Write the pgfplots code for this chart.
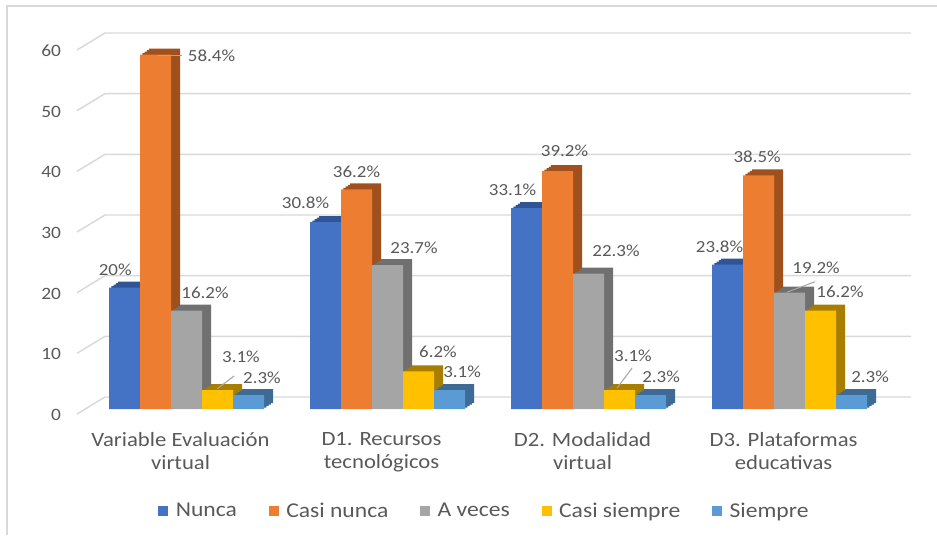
\documentclass[border=0pt]{standalone}
\usepackage{fontspec}
\setmainfont{Carlito}[FakeStretch=1.12]
\usepackage{pgfplots}
\pgfplotsset{compat=1.18}
\usepackage{pgfplotstable}

\definecolor{cN}{HTML}{4472C4}
\definecolor{cNd}{HTML}{2F5597}
\definecolor{cCN}{HTML}{ED7D31}
\definecolor{cCNd}{HTML}{A0501C}
\definecolor{cAV}{HTML}{A5A5A5}
\definecolor{cAVd}{HTML}{707070}
\definecolor{cCS}{HTML}{FFC000}
\definecolor{cCSd}{HTML}{A87E00}
\definecolor{cS}{HTML}{5B9BD5}
\definecolor{cSd}{HTML}{3D6B96}
\definecolor{txt}{HTML}{595959}
\definecolor{gridc}{HTML}{D9D9D9}
\definecolor{lead}{HTML}{A6A6A6}

% x = category index, y = percentage, dx/dy = label offset (pt)
\pgfplotstableread{
x y dx dy
0 20 -7 13.2
1 30.8 -15 14.25
2 33.1 -10.5 13.5
3 23.8 -6 13.5
}\tN
\pgfplotstableread{
x y dx dy
0 58.4 42 -0.75
1 36.2 0 13
2 39.2 5.25 15
3 38.5 -1 13.7
}\tCN
\pgfplotstableread{
x y dx dy
0 16.2 13.9 13.3
1 23.7 19.9 12.8
2 22.3 20.6 17.5
3 19.2 19.9 18.4
}\tAV
\pgfplotstableread{
x y dx dy
0 3.1 17.6 24.8
1 6.2 14.6 14.6
2 3.1 10.1 25.5
3 16.2 14.6 14
}\tCS
\pgfplotstableread{
x y dx dy
0 2.3 10.1 12.75
1 3.1 9.4 13.5
2 2.3 7.9 13.5
3 2.3 13.9 13.5
}\tS

\newcommand{\seriesplot}[4]{%
  \addplot[forget plot, fill=#3, draw=none, bar shift=#4, xshift=1.7pt, yshift=1.125pt] table[x=x,y=y]{#1};
  \addplot[forget plot, fill=#3, draw=none, bar shift=#4, xshift=3.4pt, yshift=2.25pt] table[x=x,y=y]{#1};
  \addplot[forget plot, fill=#3, draw=none, bar shift=#4, xshift=5.1pt, yshift=3.375pt] table[x=x,y=y]{#1};
  \addplot[forget plot, fill=#3, draw=none, bar shift=#4, xshift=6.75pt, yshift=4.5pt] table[x=x,y=y]{#1};
  \addplot[fill=#2, draw=none, bar shift=#4,
    nodes near coords={\pgfmathprintnumber[assume math mode=true]{\pgfplotspointmeta}\%},
    visualization depends on={\thisrow{dx}\as\dx},
    visualization depends on={\thisrow{dy}\as\dy},
    every node near coord/.append style={anchor=center, xshift=\dx pt, yshift=\dy pt,
      font=\fontsize{12.7}{14}\selectfont, text=txt}]
    table[x=x,y=y]{#1};
}

\begin{document}
\begin{tikzpicture}
\path[use as bounding box] (0,0) rectangle (702.75pt,401.25pt);
\draw[gridc, line width=1.1pt] (5.25pt,0) -- (5.25pt,396.75pt) -- (702.75pt,396.75pt);
\begin{axis}[
  at={(57.75pt,94.5pt)}, anchor=south west,
  scale only axis, width=604.5pt, height=273pt,
  xmin=-0.545, xmax=3.465, ymin=0, ymax=60,
  clip=false,
  ybar, bar width=23.25pt,
  axis line style={draw=none}, major tick length=0pt,
  /pgf/number format/assume math mode=true,
  ytick={0,10,...,60},
  yticklabel style={font=\fontsize{13}{15}\selectfont, text=txt, xshift=-8.5pt, yshift=-4.5pt},
  xtick={0,1,2,3},
  xticklabels={{Variable Evaluación\\virtual},{D1. Recursos\\tecnológicos},{D2. Modalidad\\virtual},{D3. Plataformas\\educativas}},
  xticklabel style={align=center, font=\fontsize{15.2}{17.25}\selectfont, text=txt, xshift=-4.5pt, yshift=-13.8pt},
  legend columns=5,
  legend image code/.code={\fill[#1] (0pt,-3.75pt) rectangle (7.5pt,3.75pt); \path (11pt,0pt);},
  legend style={at={(0.506,-0.28)}, anchor=center, draw=none, fill=none,
    font=\fontsize{15.8}{18}\selectfont, text=txt,
    /tikz/every even column/.append style={column sep=22pt}},
]
\pgfplotsinvokeforeach{0,10,20,30,40,50,60}{
  \draw[gridc, line width=1.1pt] ([yshift=-3.75pt]axis cs:-0.545,#1) -- ([xshift=21pt,yshift=9pt]axis cs:-0.545,#1) -- ([xshift=21pt,yshift=9pt]axis cs:3.465,#1);
}
\seriesplot{\tN}{cN}{cNd}{-46.5pt}
\seriesplot{\tCN}{cCN}{cCNd}{-23.25pt}
\seriesplot{\tAV}{cAV}{cAVd}{0pt}
\seriesplot{\tCS}{cCS}{cCSd}{23.25pt}
\seriesplot{\tS}{cS}{cSd}{46.5pt}
\draw[lead, line width=0.8pt] ([xshift=-22.15pt,yshift=-0.75pt]axis cs:0,58.4) -- ([xshift=-3.35pt,yshift=-0.75pt]axis cs:0,58.4);
\draw[lead, line width=0.8pt] ([xshift=22.85pt,yshift=0.9pt]axis cs:0,3.1) -- ([xshift=35.65pt,yshift=10.7pt]axis cs:0,3.1);
\draw[lead, line width=0.8pt] ([xshift=21.35pt,yshift=1.6pt]axis cs:2,3.1) -- ([xshift=32.65pt,yshift=16.6pt]axis cs:2,3.1);
\draw[lead, line width=0.8pt] ([xshift=-2.1pt,yshift=0.2pt]axis cs:3,19.2) -- ([xshift=19.1pt,yshift=8.1pt]axis cs:3,19.2);
\legend{Nunca, Casi nunca, A veces, Casi siempre, Siempre}
\end{axis}
\end{tikzpicture}
\end{document}
